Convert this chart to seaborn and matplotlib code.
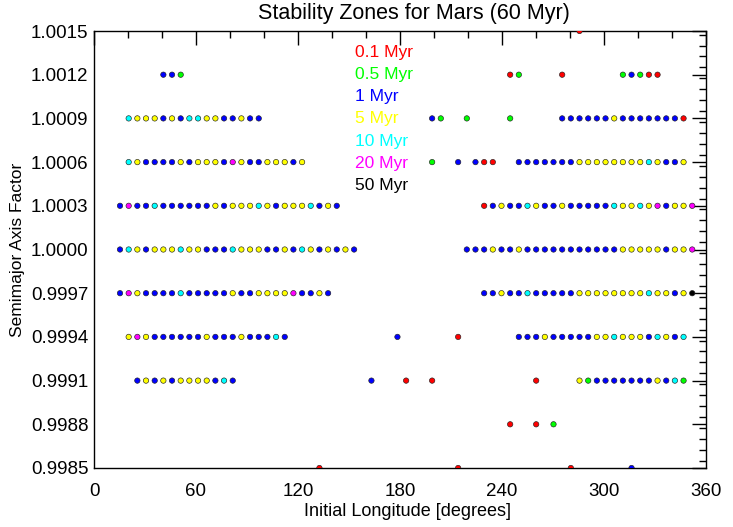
import matplotlib
matplotlib.use("Agg")
import matplotlib.pyplot as plt
from matplotlib.ticker import MultipleLocator
import seaborn as sns
import pandas as pd

# ---- data: initial longitude (deg) and survival class per row ----
# codes: r=0.1 Myr, g=0.5 Myr, b=1 Myr, y=5 Myr, c=10 Myr, m=20 Myr, k=50 Myr
row_a = [1.0015, 1.0012, 1.0009, 1.0006, 1.0003, 1.0000,
         0.9997, 0.9994, 0.9991, 0.9988, 0.9985]

lon_10015 = [285.6]
cls_10015 = "r"

lon_10012 = [40.8, 45.9, 51.0, 244.8, 249.9, 275.4, 311.1, 316.2, 321.3, 326.4, 331.5]
cls_10012 = "bbgrgrgbgrr"

lon_10009 = [20.4, 25.5, 30.6, 35.7, 40.8, 45.9, 51.0, 56.1, 61.2, 66.3, 71.4, 76.5, 81.6, 86.7, 91.8, 96.9,
             198.9, 204.0, 219.3, 244.8,
             275.4, 280.5, 285.6, 290.7, 295.8, 300.9, 306.0, 311.1, 316.2, 321.3, 326.4, 331.5, 336.6, 341.7, 346.8]
cls_10009 = "cyyybybccyybbybb" + "bggg" + "bbbbbbybbbbbbbr"

lon_10006 = [20.4, 25.5, 30.6, 35.7, 40.8, 45.9, 51.0, 56.1, 61.2, 66.3, 71.4, 76.5, 81.6, 86.7, 91.8, 96.9,
             102.0, 107.1, 112.2, 117.3, 122.4,
             198.9, 214.2, 224.4, 229.5, 234.6,
             249.9, 255.0, 260.1, 265.2, 270.3, 275.4, 280.5, 285.6, 290.7, 295.8, 300.9, 306.0, 311.1, 316.2,
             321.3, 326.4, 331.5, 336.6, 341.7, 346.8]
cls_10006 = "cybbbbybyyybmybbyyyby" + "gbbrr" + "bbbbbbbyyyyyyyycybby"

lon_10003 = [15.3, 20.4, 25.5, 30.6, 35.7, 40.8, 45.9, 51.0, 56.1, 61.2, 66.3, 71.4, 76.5, 81.6, 86.7, 91.8, 96.9,
             102.0, 107.1, 112.2, 117.3, 122.4, 127.5, 132.6, 137.7, 142.8,
             229.5, 234.6, 239.7, 244.8, 249.9, 255.0, 260.1, 265.2, 270.3, 275.4, 280.5, 285.6, 290.7, 295.8,
             300.9, 306.0, 311.1, 316.2, 321.3, 326.4, 331.5, 336.6, 341.7, 346.8, 351.9]
cls_10003 = "bmbbcbbbbbbybyyycybyyycbyb" + "rbybbcybbybbbbbcyycymbyym"

lon_10000 = [15.3, 20.4, 25.5, 30.6, 35.7, 40.8, 45.9, 51.0, 56.1, 61.2, 66.3, 71.4, 76.5, 81.6, 86.7, 91.8, 96.9,
             102.0, 107.1, 112.2, 117.3, 122.4, 127.5, 132.6, 137.7, 142.8, 147.9, 153.0,
             219.3, 224.4, 229.5, 234.6, 239.7, 244.8, 249.9, 255.0, 260.1, 265.2, 270.3, 275.4, 280.5, 285.6,
             290.7, 295.8, 300.9, 306.0, 311.1, 316.2, 321.3, 326.4, 331.5, 336.6, 341.7, 346.8, 351.9]
cls_10000 = "bcybyyycyybbbcyyybbybcybybyb" + "bbbybbybbbbbbbbbbbyyyyybyym"

lon_09997 = [15.3, 20.4, 25.5, 30.6, 35.7, 40.8, 45.9, 51.0, 56.1, 61.2, 66.3, 71.4, 76.5, 81.6, 86.7, 91.8, 96.9,
             102.0, 107.1, 112.2, 117.3, 122.4, 127.5, 132.6, 137.7,
             229.5, 234.6, 239.7, 244.8, 249.9, 255.0, 260.1, 265.2, 270.3, 275.4, 280.5, 285.6, 290.7, 295.8,
             300.9, 306.0, 311.1, 316.2, 321.3, 326.4, 331.5, 336.6, 341.7, 346.8, 351.9]
cls_09997 = "bmybbbbcbbbbbybbyyyymbbyb" + "bbybbcbbbbbyyyyyyyycyybyk"

lon_09994 = [20.4, 25.5, 30.6, 35.7, 40.8, 45.9, 51.0, 56.1, 61.2, 66.3, 71.4, 76.5, 81.6, 86.7, 91.8, 96.9,
             102.0, 107.1, 112.2,
             178.5, 214.2,
             249.9, 255.0, 260.1, 265.2, 270.3, 275.4, 280.5, 285.6, 290.7, 295.8, 300.9, 306.0, 311.1, 316.2,
             321.3, 326.4, 331.5, 336.6, 341.7, 346.8]
cls_09994 = "ymybbbbbbybbbybbbcb" + "br" + "bbbybbbbbyycyyybcybc"

lon_09991 = [25.5, 30.6, 35.7, 40.8, 45.9, 51.0, 56.1, 61.2, 66.3, 71.4, 76.5, 81.6,
             163.2, 183.6, 198.9, 260.1,
             285.6, 290.7, 295.8, 300.9, 306.0, 311.1, 316.2, 321.3, 326.4, 331.5, 336.6, 341.7, 346.8]
cls_09991 = "bybybyyyybcb" + "brrr" + "ygbbbbbbbybcg"

lon_09988 = [244.8, 260.1, 270.3]
cls_09988 = "rrg"

lon_09985 = [132.6, 214.2, 280.5, 316.2]
cls_09985 = "rrrb"

row_lons = [lon_10015, lon_10012, lon_10009, lon_10006, lon_10003, lon_10000,
            lon_09997, lon_09994, lon_09991, lon_09988, lon_09985]
row_cls = [cls_10015, cls_10012, cls_10009, cls_10006, cls_10003, cls_10000,
           cls_09997, cls_09994, cls_09991, cls_09988, cls_09985]

class_codes = ["r", "g", "b", "y", "c", "m", "k"]
class_labels = ["0.1 Myr", "0.5 Myr", "1 Myr", "5 Myr", "10 Myr", "20 Myr", "50 Myr"]
class_colors = ["#ff0000", "#00ff00", "#0000ff", "#ffff00", "#00ffff", "#ff00ff", "#000000"]

x_ticks = [0, 60, 120, 180, 240, 300, 360]
y_ticks = [0.9985, 0.9988, 0.9991, 0.9994, 0.9997, 1.0000, 1.0003, 1.0006, 1.0009, 1.0012, 1.0015]

# ---- build table ----
recs = []
for a, lons, cls in zip(row_a, row_lons, row_cls):
    for lon, c in zip(lons, cls):
        recs.append({"lon": lon, "a": a, "cls": class_labels[class_codes.index(c)]})
df = pd.DataFrame(recs)

sns.set_style("white")
plt.rcParams["font.family"] = ["Liberation Sans", "DejaVu Sans"]
plt.rcParams["text.color"] = "black"
plt.rcParams["axes.labelcolor"] = "black"
plt.rcParams["xtick.color"] = "black"
plt.rcParams["ytick.color"] = "black"

fig = plt.figure(figsize=(7.33, 5.27), dpi=100)
ax = fig.add_axes([94 / 733, 1 - 468 / 527, (706 - 94) / 733, (468 - 31) / 527])

sns.scatterplot(data=df, x="lon", y="a", hue="cls", hue_order=class_labels,
                palette=dict(zip(class_labels, class_colors)), s=15,
                edgecolor="#222222", linewidth=0.45, legend=False, ax=ax, zorder=3)

ax.set_xlim(0, 360)
ax.set_ylim(0.9985, 1.0015)
ax.set_xticks(x_ticks)
ax.set_xticklabels([str(v) for v in x_ticks])
ax.set_yticks(y_ticks)
ax.set_yticklabels([f"{v:.4f}" for v in y_ticks])
ax.xaxis.set_minor_locator(MultipleLocator(20))
ax.yaxis.set_minor_locator(MultipleLocator(0.000075))
ax.tick_params(which="major", direction="in", top=True, right=True, length=10, width=1,
               labelsize=13.5, color="black", labelcolor="black")
ax.tick_params(axis="x", which="major", pad=11)
ax.tick_params(axis="y", which="major", pad=4)
ax.tick_params(which="minor", direction="in", top=True, right=True, length=5, width=1,
               color="black")
for sp in ax.spines.values():
    sp.set_color("black")
    sp.set_linewidth(1)

ax.set_xlabel("")
ax.set_ylabel("Semimajor Axis Factor", fontsize=12.5, labelpad=4)
fig.text(407 / 733, 1 - 511 / 527, "Initial Longitude [degrees]", fontsize=13,
         ha="center", va="center")
fig.text(414 / 733, 1 - 13 / 527, "Stability Zones for Mars (60 Myr)", fontsize=15.5,
         ha="center", va="center")

# colored text key
for i, (lab, col) in enumerate(zip(class_labels, class_colors)):
    fig.text(355 / 733, 1 - (52 + i * 22.3) / 527, lab, color=col, fontsize=12.5,
             ha="left", va="center")

fig.savefig("out.png", dpi=100)
